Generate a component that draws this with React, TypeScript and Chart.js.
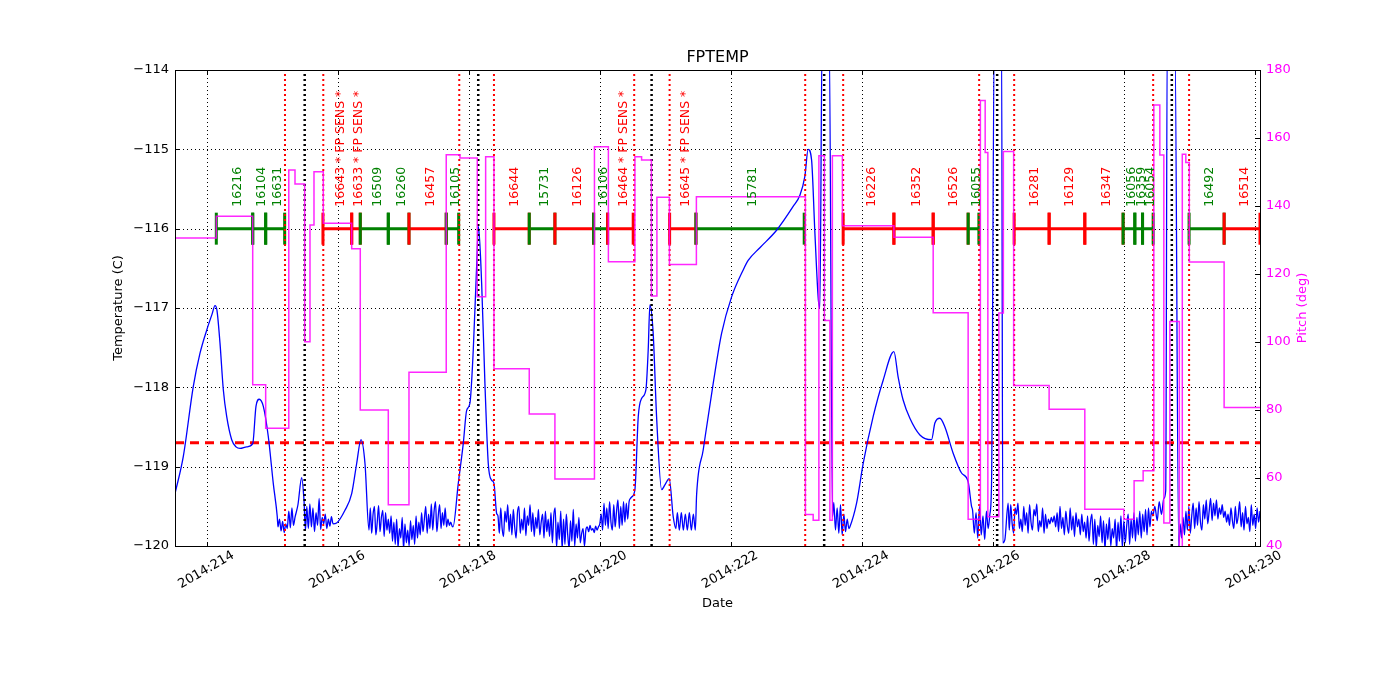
import React, { useEffect, useRef } from 'react';
import { Chart, registerables } from 'chart.js';

Chart.register(...registerables);

// ---------- axes ----------
const X_MIN = 213.507;
const X_MAX = 230.08;
const xTickDays = [214, 216, 218, 220, 222, 224, 226, 228, 230];
const tempTicks = [-120, -119, -118, -117, -116, -115, -114];
const pitchTicks = [40, 60, 80, 100, 120, 140, 160, 180];
const TEMP_LIMIT = -118.7;
const BAR_LEVEL = -116;

// ---------- temperature (FPTEMP) ----------
const tempPath1 = [[213.507,-119.34],[213.634,-118.87],[213.786,-117.99],[213.889,-117.57],[213.991,-117.28],[214.072,-117.08],[214.118,-116.97],[214.148,-117.03],[214.194,-117.44],[214.245,-118.03],[214.297,-118.37],[214.373,-118.66],[214.439,-118.75],[214.5,-118.77],[214.602,-118.75],[214.694,-118.71],[214.744,-118.24],[214.794,-118.15],[214.856,-118.24],[214.932,-118.62],[215.008,-119.21],[215.069,-119.63]];
const noiseASpan = [215.08, 215.34];
const noiseA = [-119.76,-119.66,-119.81,-119.69,-119.83,-119.72,-119.78,-119.56,-119.77,-119.52,-119.74,-119.64];
const tempPath2 = [[215.385,-119.48],[215.442,-119.14],[215.477,-119.42],[215.5,-119.8]];
const noiseBSpan = [215.52, 215.92];
const noiseB = [-119.5,-119.78,-119.47,-119.76,-119.52,-119.82,-119.58,-119.74,-119.4,-119.79,-119.64,-119.72,-119.6,-119.78,-119.66,-119.75,-119.63,-119.72];
const tempPath3 = [[215.976,-119.71],[216.103,-119.55],[216.206,-119.34],[216.282,-118.96],[216.348,-118.66],[216.409,-118.96],[216.47,-119.8]];
const noiseCSpan = [216.49, 217.74];
const noiseC = [-119.52,-119.84,-119.6,-119.5,-119.86,-119.7,-119.49,-119.82,-119.64,-119.55,-119.88,-119.58,-119.8,-119.66,-119.84,-119.62,-119.94,-119.7,-119.98,-119.66,-120.02,-119.78,-119.9,-119.64,-120.04,-119.72,-119.96,-119.8,-120.0,-119.68,-119.92,-119.74,-119.98,-119.62,-119.9,-119.7,-119.86,-119.58,-119.82,-119.66,-119.5,-119.84,-119.6,-119.78,-119.47,-119.8,-119.56,-119.44,-119.82,-119.62,-119.48,-119.78,-119.58,-119.74,-119.52,-119.76,-119.66,-119.74,-119.7,-119.75];
const tempPath4 = [[217.753,-119.76],[217.834,-119.21],[217.91,-118.71],[217.962,-118.29],[218.012,-118.2],[218.063,-117.53],[218.114,-116.48],[218.142,-115.97],[218.191,-116.69],[218.241,-117.95],[218.292,-118.96],[218.343,-119.17],[218.379,-119.21],[218.42,-119.59]];
const noiseDSpan = [218.44, 220.486];
const noiseD = [-119.62,-119.84,-119.52,-119.78,-119.88,-119.56,-119.7,-119.48,-119.82,-119.6,-119.86,-119.54,-119.76,-119.9,-119.58,-119.5,-119.84,-119.66,-119.8,-119.52,-119.87,-119.62,-119.74,-119.48,-119.82,-119.58,-119.88,-119.64,-119.78,-119.54,-119.86,-119.7,-119.6,-119.9,-119.56,-119.82,-119.66,-119.88,
  -119.58,-119.96,-119.62,-119.52,-120.02,-119.7,-119.92,-119.56,-120.04,-119.66,-119.98,-119.6,-119.86,-120.03,-119.68,-119.94,-119.54,-120.0,-119.72,-119.9,-119.64,-119.96,
  -119.84,-119.78,-120.0,-119.8,-119.76,-119.82,-119.74,-119.8,-119.78,-119.83,-119.75,-119.8,-119.76,-119.72,
  -119.6,-119.8,-119.46,-119.74,-119.52,-119.78,-119.44,-119.7,-119.8,-119.48,-119.76,-119.56,-119.42,-119.78,-119.5,-119.74,-119.44,-119.7,-119.46,-119.66,
  -119.44,-119.4,-119.38];
const tempPath5 = [[220.532,-119.29],[220.583,-118.37],[220.634,-118.14],[220.7,-118.03],[220.735,-117.53],[220.761,-116.96],[220.811,-117.32],[220.863,-118.37],[220.94,-119.29],[220.99,-119.23],[221.056,-119.15],[221.117,-119.63],[221.158,-119.78]];
const noiseESpan = [221.18, 221.455];
const noiseE = [-119.58,-119.8,-119.58,-119.8,-119.6,-119.8,-119.58,-119.8,-119.6,-119.8];
const tempPath6 = [[221.474,-119.36],[221.575,-118.79],[221.728,-117.95],[221.856,-117.32],[222.009,-116.86],[222.186,-116.52],[222.262,-116.4],[222.441,-116.24],[222.696,-116.02],[222.949,-115.72],[223.052,-115.58],[223.128,-115.34],[223.178,-115.0],[223.23,-115.13],[223.281,-116.05],[223.334,-116.9],[223.357,-117.0],[223.393,-113.5],[223.499,-113.5],[223.551,-119.63]];
const noiseFSpan = [223.57, 223.8];
const noiseF = [-119.45,-119.8,-119.52,-119.84,-119.48,-119.86,-119.6,-119.82,-119.66,-119.78];
const tempPath7 = [[223.815,-119.76],[223.918,-119.46],[224.019,-118.96],[224.171,-118.37],[224.324,-117.91],[224.488,-117.55],[224.553,-117.87],[224.629,-118.16],[224.732,-118.39],[224.885,-118.6],[225.063,-118.66],[225.114,-118.45],[225.19,-118.39],[225.267,-118.5],[225.393,-118.83],[225.521,-119.08],[225.622,-119.19],[225.674,-119.5]];
const noiseGSpan = [225.69, 225.954];
const noiseG = [-119.55,-119.84,-119.58,-119.9,-119.5,-119.86,-119.62,-119.92,-119.56,-119.78,-119.6];
const tempPath8 = [[225.98,-119.19],[226.022,-113.5],[226.132,-113.5],[226.152,-119.96],[226.183,-119.92],[226.233,-119.46]];
const noiseHSpan = [226.25, 228.443];
const noiseH = [-119.8,-119.48,-119.72,-119.84,-119.52,-119.6,-119.46,-119.78,-119.66,-119.82,-119.5,-119.74,-119.58,-119.84,-119.48,-119.7,-119.8,-119.54,-119.62,-119.47,-119.82,-119.68,-119.76,-119.52,-119.84,-119.6,-119.78,-119.66,-119.72,-119.64,-119.7,-119.62,-119.76,-119.58,-119.82,-119.5,-119.78,-119.64,-119.86,-119.56,-119.74,-119.84,-119.52,-119.8,-119.62,-119.88,-119.58,-119.76,-119.66,-119.86,-119.6,-119.82,-119.7,-119.9,
  -119.62,-119.94,-119.7,-119.6,-119.98,-119.66,-120.02,-119.74,-119.88,-119.62,-119.96,-119.68,-120.04,-119.72,-119.92,-119.64,-120.0,-119.78,-119.9,-119.66,-120.05,-119.7,-119.94,-119.62,-120.02,-119.68,-119.96,-119.74,-119.6,-119.98,-119.66,-119.9,-119.58,-119.94,-119.64,-119.86,-119.56,-119.9,-119.6,-119.82,-119.54,-119.86,-119.52,-119.76,-119.56,-119.62];
const tempPath9 = [[228.474,-119.5],[228.51,-119.68],[228.54,-119.44],[228.575,-119.6],[228.611,-119.4],[228.64,-119.3],[228.664,-113.5],[228.779,-113.5],[228.839,-120.02]];
const noiseISpan = [228.86, 230.08];
const noiseI = [-119.72,-119.9,-119.64,-119.86,-119.56,-119.8,-119.5,-119.84,-119.62,-119.46,-119.78,-119.52,-119.74,-119.44,-119.7,-119.8,-119.48,-119.66,-119.42,-119.72,-119.56,-119.4,-119.68,-119.46,-119.62,-119.42,-119.66,-119.52,-119.6,-119.48,-119.64,-119.56,-119.7,-119.6,-119.74,-119.52,-119.68,-119.78,-119.5,-119.72,-119.62,-119.44,-119.76,-119.58,-119.8,-119.5,-119.72,-119.64,-119.82,-119.48,-119.74,-119.6,-119.78,-119.52,-119.7,-119.56];

// ---------- pitch ----------
const pitchTimes = [213.507,214.138,214.694,214.892,215.245,215.34,215.488,215.569,215.63,215.772,216.206,216.337,216.765,217.081,217.65,217.86,218.124,218.252,218.379,218.918,219.31,219.914,220.127,220.532,220.634,220.784,220.868,221.059,221.471,223.136,223.255,223.342,223.426,223.51,223.548,223.701,224.488,225.088,225.622,225.809,225.882,225.923,226.091,226.16,226.317,226.859,227.404,228.0,228.157,228.295,228.458,228.55,228.611,228.703,228.848,228.893,228.947,229.0,229.532,230.08];
const pitchValues = [130.6,137,87.4,74.6,150.6,146.5,100.1,134.4,150.1,134.9,127.4,80,52.1,91.1,155.1,154.1,113.3,154.5,92.1,78.8,59.7,157.4,123.6,154.5,153.5,113.5,142.6,122.8,142.7,49.3,47.6,154.8,106.3,47.6,154.8,134.2,130.8,108.6,47.9,171,155.7,48.6,108.5,156,87.2,80.2,50.8,47.9,59.2,62.1,169.7,155,46.8,106,39.5,155.2,152.8,123.5,80.7,80.7];

// ---------- observations ----------
const obsidLabels = ['16216','16104','16631','16643 * FP SENS *','16633 * FP SENS *','16509','16260','16457','16105','16644','15731','16126','16106','16464 * FP SENS *','16645 * FP SENS *','15781','16226','16352','16526','16055','16281','16129','16347','16056','16359','16054','16492','16514'];
const obsidStart = [214.138,214.694,214.892,215.767,216.206,216.337,216.765,217.081,217.65,218.379,218.918,219.31,219.901,220.115,221.062,221.464,223.713,224.488,225.088,225.622,226.325,226.859,227.404,227.989,228.168,228.286,228.997,229.532];
const obsidStop = [214.694,214.892,215.182,216.206,216.337,216.765,217.081,217.65,217.84,218.918,219.31,219.901,220.115,220.506,221.464,223.118,224.488,225.088,225.622,225.786,226.859,227.404,227.989,228.168,228.286,228.448,229.532,230.08];
const obsidWarm = [0,0,0,1,1,0,0,1,0,1,0,1,0,1,1,0,1,1,1,0,1,1,1,0,0,0,0,1];

// ---------- event lines ----------
const radZoneTimes = [215.187,215.772,217.849,218.379,220.521,221.062,223.133,223.713,225.79,226.325,228.448,228.997];
const perigeeTimes = [215.488,218.139,220.787,223.423,226.065,228.733];

// ---------- build ----------
const GREEN = '#008000';
const RED = '#ff0000';
const pairs = (p: number[][]) => p.map(([x, y]) => ({ x, y }));
const spread = (span: number[], vals: number[]) =>
  vals.map((v, i) => ({ x: span[0] + (i * (span[1] - span[0])) / (vals.length - 1), y: v }));

const tempData = [
  ...pairs(tempPath1), ...spread(noiseASpan, noiseA),
  ...pairs(tempPath2), ...spread(noiseBSpan, noiseB),
  ...pairs(tempPath3), ...spread(noiseCSpan, noiseC),
  ...pairs(tempPath4), ...spread(noiseDSpan, noiseD),
  ...pairs(tempPath5), ...spread(noiseESpan, noiseE),
  ...pairs(tempPath6), ...spread(noiseFSpan, noiseF),
  ...pairs(tempPath7), ...spread(noiseGSpan, noiseG),
  ...pairs(tempPath8), ...spread(noiseHSpan, noiseH),
  ...pairs(tempPath9), ...spread(noiseISpan, noiseI),
];
const pitchData = pitchTimes.map((t, i) => ({ x: t, y: pitchValues[i] }));

const barData = (warm: number) => {
  const out: { x: number; y: number | null }[] = [];
  obsidStart.forEach((s, i) => {
    if (obsidWarm[i] !== warm) return;
    out.push({ x: s, y: BAR_LEVEL }, { x: obsidStop[i], y: BAR_LEVEL }, { x: obsidStop[i], y: null });
  });
  return out;
};
const tickPts: { x: number; y: number }[] = [];
const tickColors: string[] = [];
obsidStart.forEach((s, i) => {
  const c = obsidWarm[i] ? RED : GREEN;
  tickPts.push({ x: s, y: BAR_LEVEL }, { x: obsidStop[i], y: BAR_LEVEL });
  tickColors.push(c, c);
});
const vlines = (times: number[]) => {
  const out: { x: number; y: number | null }[] = [];
  times.forEach((t) => out.push({ x: t, y: tempTicks[0] }, { x: t, y: tempTicks[tempTicks.length - 1] }, { x: t, y: null }));
  return out;
};

const FONT = "'DejaVu Sans', sans-serif";
const minus = (v: number) => (v < 0 ? '\u2212' + Math.abs(v) : String(v));

const decor = {
  id: 'decor',
  beforeDatasetsDraw(chart: any) {
    const { ctx, chartArea: a, scales } = chart;
    ctx.save();
    ctx.strokeStyle = '#000';
    ctx.lineWidth = 1;
    ctx.setLineDash([1, 3]);
    xTickDays.forEach((v) => {
      const px = Math.round(scales.x.getPixelForValue(v)) + 0.5;
      ctx.beginPath(); ctx.moveTo(px, a.top); ctx.lineTo(px, a.bottom); ctx.stroke();
    });
    tempTicks.slice(1, -1).forEach((v) => {
      const py = Math.round(scales.y.getPixelForValue(v)) + 0.5;
      ctx.beginPath(); ctx.moveTo(a.left, py); ctx.lineTo(a.right, py); ctx.stroke();
    });
    ctx.restore();
  },
  afterDraw(chart: any) {
    const { ctx, chartArea: a, scales } = chart;
    ctx.save();
    ctx.strokeStyle = '#000';
    ctx.lineWidth = 1;
    ctx.strokeRect(a.left + 0.5, a.top + 0.5, a.right - a.left, a.bottom - a.top);
    ctx.beginPath();
    xTickDays.forEach((v) => {
      const px = Math.round(scales.x.getPixelForValue(v)) + 0.5;
      ctx.moveTo(px, a.bottom); ctx.lineTo(px, a.bottom - 4);
      ctx.moveTo(px, a.top); ctx.lineTo(px, a.top + 4);
    });
    tempTicks.forEach((v) => {
      const py = Math.round(scales.y.getPixelForValue(v)) + 0.5;
      ctx.moveTo(a.left, py); ctx.lineTo(a.left + 4, py);
    });
    pitchTicks.forEach((v) => {
      const py = Math.round(scales.y2.getPixelForValue(v)) + 0.5;
      ctx.moveTo(a.right, py); ctx.lineTo(a.right - 4, py);
    });
    ctx.stroke();
    ctx.fillStyle = '#000';
    ctx.font = `13px ${FONT}`;
    ctx.textAlign = 'center';
    ctx.textBaseline = 'middle';
    xTickDays.forEach((v) => {
      const px = scales.x.getPixelForValue(v);
      ctx.save();
      ctx.translate(px - 1, a.bottom + 24);
      ctx.rotate(-Math.PI / 6);
      ctx.fillText(`2014:${v}`, 0, 0);
      ctx.restore();
    });
    ctx.font = `12.5px ${FONT}`;
    ctx.textAlign = 'left';
    obsidLabels.forEach((lab, i) => {
      const px = scales.x.getPixelForValue((obsidStart[i] + obsidStop[i]) / 2) + 3;
      const py = scales.y.getPixelForValue(BAR_LEVEL) - 22;
      ctx.save();
      ctx.translate(px, py);
      ctx.rotate(-Math.PI / 2);
      ctx.fillStyle = obsidWarm[i] ? RED : GREEN;
      ctx.fillText(lab, 0, 0);
      ctx.restore();
    });
    const cx = (a.left + a.right) / 2;
    const cy = (a.top + a.bottom) / 2;
    ctx.textAlign = 'center';
    ctx.fillStyle = '#000';
    ctx.font = `16px ${FONT}`;
    ctx.fillText('FPTEMP', cx, a.top - 12);
    ctx.font = `13px ${FONT}`;
    ctx.fillText('Date', cx, a.bottom + 58);
    ctx.save();
    ctx.translate(a.left - 56, cy);
    ctx.rotate(-Math.PI / 2);
    ctx.fillText('Temperature (C)', 0, 0);
    ctx.restore();
    ctx.save();
    ctx.translate(a.right + 43, cy);
    ctx.rotate(-Math.PI / 2);
    ctx.fillStyle = '#ff00ff';
    ctx.fillText('Pitch (deg)', 0, 0);
    ctx.restore();
    ctx.restore();
  },
};

export default function App() {
  const ref = useRef<HTMLCanvasElement>(null);
  useEffect(() => {
    document.body.style.margin = '0';
    Chart.defaults.font.family = FONT;
    const chart = new Chart(ref.current!, {
      type: 'line',
      data: {
        datasets: [
          { label: 'pitch', data: pitchData, yAxisID: 'y2', stepped: true, borderColor: 'rgba(255,0,255,0.85)', borderWidth: 1.5, pointRadius: 0, order: 0, clip: 0 } as any,
          { label: 'radzone', data: vlines(radZoneTimes), yAxisID: 'y', borderColor: RED, borderWidth: 2, borderDash: [2, 3], pointRadius: 0, spanGaps: false, order: 1, clip: 0 },
          { label: 'perigee', data: vlines(perigeeTimes), yAxisID: 'y', borderColor: '#000', borderWidth: 2.5, borderDash: [2, 3], pointRadius: 0, spanGaps: false, order: 1, clip: 0 },
          { label: 'FPTEMP', data: tempData, yAxisID: 'y', borderColor: '#0000ff', borderWidth: 1.3, pointRadius: 0, cubicInterpolationMode: 'monotone', order: 2, clip: 0 },
          { label: 'limit', data: [{ x: X_MIN, y: TEMP_LIMIT }, { x: X_MAX, y: TEMP_LIMIT }], yAxisID: 'y', borderColor: RED, borderWidth: 3, borderDash: [9, 6], pointRadius: 0, order: 3, clip: 0 },
          { label: 'ticks', data: tickPts, yAxisID: 'y', showLine: false, pointStyle: 'line', pointRadius: 16, pointRotation: 90, pointBorderWidth: 3, pointBorderColor: tickColors, pointHoverRadius: 0, order: 4 } as any,
          { label: 'cold', data: barData(0), yAxisID: 'y', borderColor: GREEN, borderWidth: 3, pointRadius: 0, spanGaps: false, order: 5, clip: 0 },
          { label: 'warm', data: barData(1), yAxisID: 'y', borderColor: RED, borderWidth: 3, pointRadius: 0, spanGaps: false, order: 5, clip: 0 },
        ],
      },
      options: {
        responsive: false,
        animation: false,
        parsing: false as any,
        events: [],
        layout: { padding: { top: 70, left: 0, right: 0, bottom: 0 } },
        plugins: { legend: { display: false }, tooltip: { enabled: false }, title: { display: false } },
        scales: {
          x: {
            type: 'linear', min: X_MIN, max: X_MAX,
            ticks: { display: false },
            grid: { display: false, drawTicks: false },
            border: { display: false },
            afterBuildTicks: (s: any) => { s.ticks = xTickDays.map((v) => ({ value: v })); },
            afterFit: (s: any) => { s.height = 154; },
          },
          y: {
            type: 'linear', position: 'left', min: tempTicks[0], max: tempTicks[tempTicks.length - 1],
            ticks: { stepSize: 1, color: '#000', font: { size: 13 }, padding: 6, callback: (v: any) => minus(Number(v)) },
            grid: { display: false, drawTicks: false },
            border: { display: false },
            afterBuildTicks: (s: any) => { s.ticks = tempTicks.map((v) => ({ value: v })); },
            afterFit: (s: any) => { s.width = 175; },
          },
          y2: {
            type: 'linear', position: 'right', min: pitchTicks[0], max: pitchTicks[pitchTicks.length - 1],
            ticks: { stepSize: 20, color: '#ff00ff', font: { size: 13 }, padding: 6 },
            grid: { display: false, drawTicks: false },
            border: { display: false },
            afterBuildTicks: (s: any) => { s.ticks = pitchTicks.map((v) => ({ value: v })); },
            afterFit: (s: any) => { s.width = 140; },
          },
        },
      } as any,
      plugins: [decor],
    });
    return () => chart.destroy();
  }, []);
  return (
    <div style={{ width: 1400, height: 700, position: 'relative', background: '#fff' }}>
      <canvas ref={ref} width={1400} height={700} style={{ display: 'block' }} />
    </div>
  );
}
